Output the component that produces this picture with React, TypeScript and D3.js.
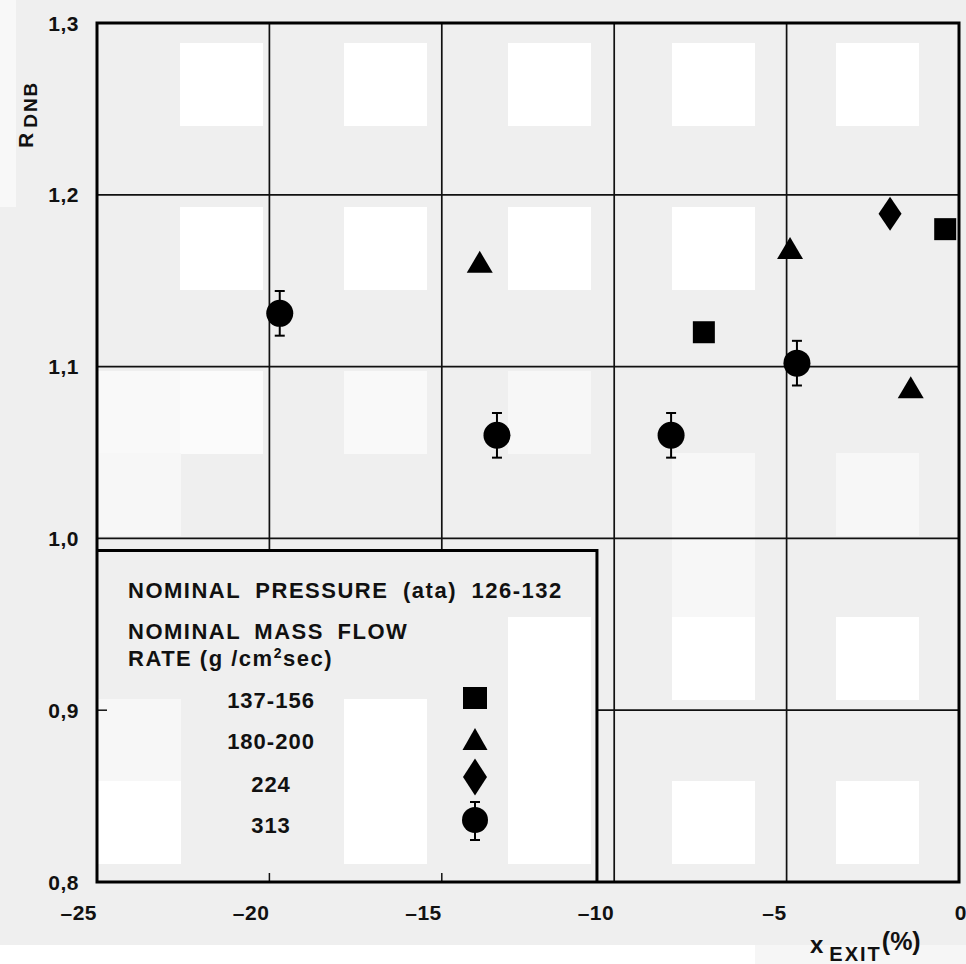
import React, { useEffect } from 'react';
import * as d3 from 'd3';

// axis ticks
const xTicks = [-25, -20, -15, -10, -5, 0];
const yTicks = [0.8, 0.9, 1.0, 1.1, 1.2, 1.3];
const yTickLabels = ['0,8', '0,9', '1,0', '1,1', '1,2', '1,3'];

// nominal mass flow rate groups (g/cm2 sec)
const flowLabels = ['137-156', '180-200', '224', '313'];

// 137-156 : squares
const squareX = [-7.4, -0.4];
const squareY = [1.12, 1.18];
// 180-200 : triangles
const triangleX = [-13.9, -4.9, -1.4];
const triangleY = [1.161, 1.169, 1.088];
// 224 : diamond
const diamondX = [-2.0];
const diamondY = [1.189];
// 313 : circles with error bars
const circleX = [-19.7, -13.4, -8.35, -4.7];
const circleY = [1.131, 1.06, 1.06, 1.102];
const circleErr = [0.013, 0.013, 0.013, 0.013];

// scan background blocks: [col, row, grey level]
const scanBlocks: [number, number, number][] = [
  [2, 0, 255], [4, 0, 255], [6, 0, 255], [8, 0, 255], [10, 0, 255],
  [2, 2, 255], [4, 2, 255], [6, 2, 255], [8, 2, 255],
  [1, 4, 249], [2, 4, 251], [4, 4, 249], [6, 4, 247],
  [1, 5, 247], [8, 5, 247], [10, 5, 247], [8, 6, 247],
  [6, 7, 255], [8, 7, 255], [10, 7, 255],
  [1, 8, 247], [4, 8, 255], [6, 8, 255],
  [1, 9, 255], [4, 9, 255], [6, 9, 255], [8, 9, 255], [10, 9, 255],
];

const W = 966;
const H = 964;
const FONT = '"Liberation Sans", Arial, sans-serif';

const trianglePath = (w: number, h: number) => `M0,${-h / 2}L${w / 2},${h / 2}L${-w / 2},${h / 2}Z`;
const diamondPath = (w: number, h: number) => `M0,${-h / 2}L${w / 2},0L0,${h / 2}L${-w / 2},0Z`;

const Circle = ({ cx, cy, r, top, bottom }: { cx: number; cy: number; r: number; top: number; bottom: number }) => (
  <g>
    <line x1={cx} x2={cx} y1={top} y2={bottom} stroke="#000" strokeWidth={2} />
    <line x1={cx - 5} x2={cx + 5} y1={top} y2={top} stroke="#000" strokeWidth={2} />
    <line x1={cx - 5} x2={cx + 5} y1={bottom} y2={bottom} stroke="#000" strokeWidth={2} />
    <circle cx={cx} cy={cy} r={r} fill="#000" />
  </g>
);

export default function App() {
  useEffect(() => {
    document.body.style.margin = '0';
  }, []);

  const x = d3.scaleLinear().domain([-25, 0]).range([97, 959]);
  const y = d3.scaleLinear().domain([0.8, 1.3]).range([882, 23]);

  // legend box spans from the y axis to x = -10.5, and from the bottom up to 0.993
  const legRight = x(-10.5);
  const legTop = y(0.993);
  const legX = 128;
  const rowY = [708, 749, 792, 833];
  const markX = 475;

  return (
    <svg width={W} height={H} style={{ display: 'block' }} fontFamily={FONT}>
      <rect width={W} height={H} fill="#efefef" />
      <rect x={0} y={0} width={16} height={207} fill="#f8f8f8" />
      <rect x={0} y={945} width={755} height={H - 945} fill="#fff" />
      <rect x={755} y={945} width={W - 755} height={H - 945} fill="#f6f6f6" />
      {scanBlocks.map(([c, r, g], i) => (
        <rect key={i} x={16 + 82 * c} y={43 + 82 * r} width={83} height={83} fill={`rgb(${g},${g},${g})`} />
      ))}

      {/* grid */}
      {xTicks.slice(1, -1).map((t) => (
        <line key={'gx' + t} x1={x(t)} x2={x(t)} y1={y(1.3)} y2={x(t) < legRight ? legTop : y(0.8)} stroke="#111" strokeWidth={1.7} />
      ))}
      {yTicks.slice(1, -1).map((t) => (
        <line key={'gy' + t} x1={t < 0.993 ? legRight : x(-25)} x2={x(0)} y1={y(t)} y2={y(t)} stroke="#111" strokeWidth={1.7} />
      ))}
      {/* short ticks hidden under the legend */}
      {xTicks.filter((t) => x(t) < legRight && t > -25).map((t) => (
        <line key={'tx' + t} x1={x(t)} x2={x(t)} y1={y(0.8)} y2={y(0.8) - 9} stroke="#111" strokeWidth={1.5} />
      ))}
      {yTicks.filter((t) => t < 0.993 && t > 0.8).map((t) => (
        <line key={'ty' + t} x1={x(-25)} x2={x(-25) + 10} y1={y(t)} y2={y(t)} stroke="#111" strokeWidth={1.5} />
      ))}

      {/* legend box */}
      <path d={`M${x(-25)},${legTop}H${legRight}V${y(0.8)}`} fill="none" stroke="#000" strokeWidth={3} />

      {/* frame */}
      <rect x={x(-25)} y={y(1.3)} width={x(0) - x(-25)} height={y(0.8) - y(1.3)} fill="none" stroke="#000" strokeWidth={3} />

      {/* tick labels */}
      {yTicks.map((t, i) => (
        <text key={'ly' + t} x={79} y={y(t)} dy="0.36em" textAnchor="end" fontSize={21} fontWeight="bold" letterSpacing={0.5} fill="#111">
          {yTickLabels[i]}
        </text>
      ))}
      {xTicks.map((t) => (
        <text key={'lx' + t} x={x(t) + (t === 0 ? 8 : 0)} y={920} textAnchor="end" fontSize={21} fontWeight="bold" letterSpacing={0.5} fill="#111">
          {t < 0 ? '\u2013' + Math.abs(t) : String(t)}
        </text>
      ))}

      {/* axis titles */}
      <text x={810} y={953} fontWeight="bold" fill="#111">
        <tspan fontSize={24}>x</tspan>
        <tspan fontSize={20} dx={6} dy={8} letterSpacing={2}>EXIT</tspan>
        <tspan fontSize={25} dy={-11}>(%)</tspan>
      </text>
      <text transform="translate(33,148) rotate(-90)" fontWeight="bold" fill="#111">
        <tspan fontSize={21}>R</tspan>
        <tspan fontSize={19} dx={5} dy={4} letterSpacing={2}>DNB</tspan>
      </text>

      {/* data */}
      {squareX.map((v, i) => (
        <rect key={'sq' + i} x={x(v) - 11} y={y(squareY[i]) - 11} width={22} height={22} fill="#000" />
      ))}
      {triangleX.map((v, i) => (
        <path key={'tr' + i} d={trianglePath(26, 22)} transform={`translate(${x(v)},${y(triangleY[i])})`} fill="#000" />
      ))}
      {diamondX.map((v, i) => (
        <path key={'di' + i} d={diamondPath(23, 34)} transform={`translate(${x(v)},${y(diamondY[i])})`} fill="#000" />
      ))}
      {circleX.map((v, i) => (
        <Circle key={'ci' + i} cx={x(v)} cy={y(circleY[i])} r={13.5} top={y(circleY[i] + circleErr[i])} bottom={y(circleY[i] - circleErr[i])} />
      ))}

      {/* legend text */}
      <text x={legX} y={598} fontSize={22} fontWeight="bold" letterSpacing={1.5} wordSpacing={7} fill="#111">
        NOMINAL PRESSURE (ata) 126-132
      </text>
      <text x={legX} y={639} fontSize={22} fontWeight="bold" letterSpacing={1.5} wordSpacing={6} fill="#111">
        NOMINAL MASS FLOW
      </text>
      <text x={legX} y={666} fontSize={22} fontWeight="bold" letterSpacing={1.5} fill="#111">
        RATE (g /cm<tspan fontSize={14} dy={-8}>2</tspan><tspan dy={8}>sec)</tspan>
      </text>
      {flowLabels.map((l, i) => (
        <text key={'fl' + l} x={271} y={rowY[i]} textAnchor="middle" fontSize={22} fontWeight="bold" letterSpacing={1} fill="#111">
          {l}
        </text>
      ))}
      <rect x={markX - 12} y={rowY[0] - 21} width={24} height={22} fill="#000" />
      <path d={trianglePath(25, 22)} transform={`translate(${markX},${rowY[1] - 10})`} fill="#000" />
      <path d={diamondPath(24, 37)} transform={`translate(${markX},${rowY[2] - 15})`} fill="#000" />
      <Circle cx={markX} cy={rowY[3] - 13} r={13} top={rowY[3] - 31} bottom={rowY[3] + 7} />
    </svg>
  );
}
